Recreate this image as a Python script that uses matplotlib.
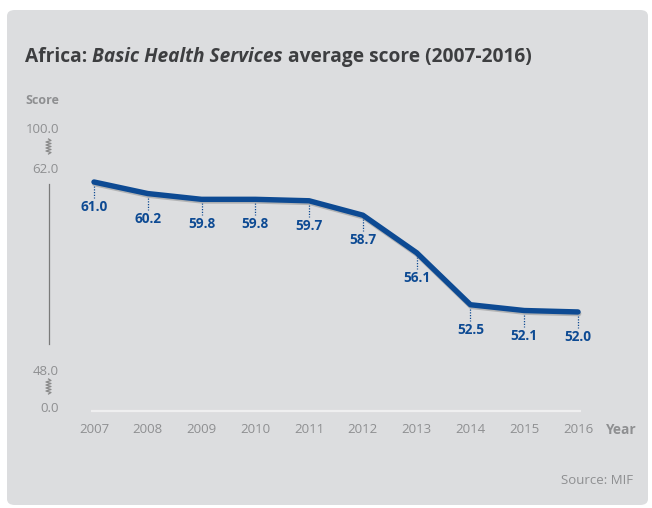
import matplotlib
matplotlib.use("Agg")
import matplotlib.pyplot as plt
from matplotlib.patches import FancyBboxPatch
from matplotlib.lines import Line2D
import matplotlib.patheffects as pe

years = [2007, 2008, 2009, 2010, 2011, 2012, 2013, 2014, 2015, 2016]
scores = [61.0, 60.2, 59.8, 59.8, 59.7, 58.7, 56.1, 52.5, 52.1, 52.0]
ytick_vals = [45.4, 48.0, 62.0, 64.75]
ytick_labels = ["0.0", "48.0", "62.0", "100.0"]

W, H = 652, 508
FONT = "Open Sans"
GREY = "#8e8f91"
BLUE = "#0d4a93"
PANEL = "#dcdddf"

fig = plt.figure(figsize=(W / 100, H / 100), dpi=100)
fig.patch.set_facecolor("white")

def fx(px):
    return px / W

def fy(py):
    return 1 - py / H

panel = FancyBboxPatch((fx(7), fy(505)), fx(641), 495 / H,
                       boxstyle="round,pad=0,rounding_size=0.012",
                       transform=fig.transFigure, facecolor=PANEL,
                       edgecolor="none", zorder=-5)
fig.patches.append(panel)

# axes geometry in pixels
ax_l, ax_r, ax_t, ax_b = 60, 610, 120, 420
ax = fig.add_axes([fx(ax_l), fy(ax_b), (ax_r - ax_l) / W, (ax_b - ax_t) / H])
ax.set_zorder(2)
ax.set_facecolor("none")
ppy = 53.78
x0 = 2007 - (94 - ax_l) / ppy
x1 = 2016 + (ax_r - 578) / ppy
ax.set_xlim(x0, x1)
pyu = 14.44
ax.set_ylim(61 - (ax_b - 182) / pyu, 61 + (182 - ax_t) / pyu)
for s in ax.spines.values():
    s.set_visible(False)

ax.set_xticks(years)
ax.set_xticklabels([str(y) for y in years])
ax.set_yticks(ytick_vals)
ax.set_yticklabels(ytick_labels)
ax.tick_params(length=0, labelcolor=GREY, labelsize=9.5)
ax.tick_params(axis="x", pad=2.5)
ax.tick_params(axis="y", pad=0.8)
for lab in ax.get_xticklabels() + ax.get_yticklabels():
    lab.set_fontfamily(FONT)

# baseline
ax.plot([2006.95, 2016.05], [61 - (410.5 - 182) / pyu] * 2,
        color="#efeff0", lw=1.6, solid_capstyle="butt", zorder=1)

# main line
ax.plot(years, scores, color=BLUE, lw=3.9, solid_capstyle="round",
        solid_joinstyle="round", zorder=3,
        path_effects=[pe.SimpleLineShadow(offset=(0.5, -1.2), shadow_color="#8a8a8a", alpha=0.5),
                      pe.Normal()])

# labels with dotted leaders
for x, v in zip(years, scores):
    ax.plot([x, x], [v - 4 / pyu, v - 16 / pyu], color=BLUE, lw=0.9,
            ls=(0, (1, 1.2)), zorder=2)
    ax.text(x, v - 25 / pyu, f"{v:.1f}", ha="center", va="center",
            color=BLUE, fontsize=9.8, fontweight="bold", fontfamily=FONT)

# vertical axis line
fig.add_artist(Line2D([fx(49), fx(49)], [fy(184), fy(344)], color="#7a7a7a", lw=0.9))

# zigzags
def zigzag(cx, top, bot, n=10, w=2.5):
    ys = [top + (bot - top) * i / n for i in range(n + 1)]
    xs = [cx + (w if i % 2 else -w) for i in range(n + 1)]
    xs[0] = cx
    xs[-1] = cx
    fig.add_artist(Line2D([fx(x) for x in xs], [fy(y) for y in ys],
                          color="#8a8a8a", lw=0.9))

zigzag(48.5, 139, 154)
zigzag(48.5, 379, 394)

# texts
fig.text(fx(25), fy(101), "Score", ha="left", va="center", color=GREY,
         fontsize=9, fontweight="bold", fontfamily=FONT)
fig.text(fx(606), fy(430), "Year", ha="left", va="center", color=GREY,
         fontsize=9.8, fontweight="bold", fontfamily=FONT)
fig.text(fx(633), fy(480), "Source: MIF", ha="right", va="center", color=GREY,
         fontsize=9.5, fontfamily=FONT)

# title in pieces
TCOL = "#3d3e40"
parts = [("Africa: ", "normal"), ("Basic Health Services", "italic"),
         (" average score (2007-2016)", "normal")]
renderer = fig.canvas.get_renderer()
xpos = fx(25)
for txt, style in parts:
    t = fig.text(xpos, fy(57), txt, ha="left", va="center", color=TCOL,
                 fontsize=13.8, fontweight="bold", fontstyle=style,
                 fontfamily=FONT)
    bb = t.get_window_extent(renderer=renderer)
    xpos = bb.x1 / W

fig.savefig("out.png", dpi=100, facecolor="white")
